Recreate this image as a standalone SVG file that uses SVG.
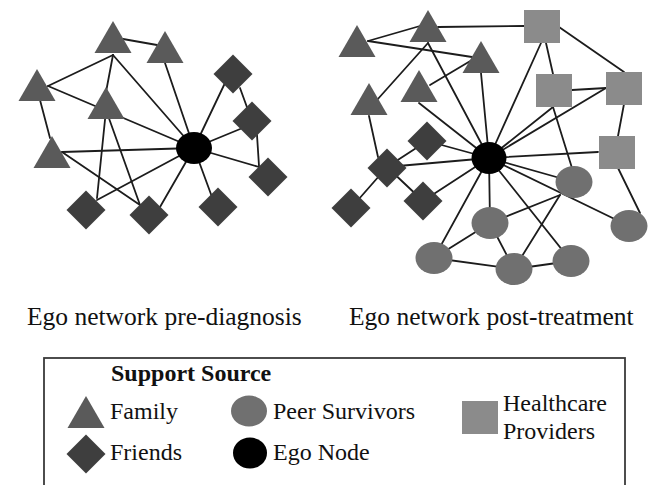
<svg xmlns="http://www.w3.org/2000/svg" xmlns:xlink="http://www.w3.org/1999/xlink" width="651" height="485" viewBox="0 0 651 485">
  <style>
    .edge { stroke: #1c1c1c; stroke-width: 1.8; fill: none; stroke-linecap: round; }
    .fam { fill: #5a5a5a; }
    .fri { fill: #3e3e3e; }
    .peer { fill: #707070; }
    .hcp { fill: #8b8b8b; }
    .ego { fill: #000000; }
    .caption { font-family: "Liberation Serif", "Times New Roman", serif; font-size: 25.5px; fill: #111; }
    .legend { font-family: "Liberation Serif", "Times New Roman", serif; font-size: 24px; fill: #111; }
    .legend-title { font-family: "Liberation Serif", "Times New Roman", serif; font-size: 24px; font-weight: bold; fill: #111; }
    .frame { fill: #ffffff; stroke: #3a3a3a; stroke-width: 1.8; }
  </style>
  <defs>
    <!-- triangle anchored at its apex -->
    <polygon id="tri" points="0,0 18.5,32 -18.5,32"/>
    <!-- diamond anchored at its centre -->
    <polygon id="dia" points="0,-19.5 19.5,0 0,19.5 -19.5,0"/>
    <!-- square anchored at its top-left corner -->
    <rect id="sq" x="0" y="0" width="36" height="33"/>
  </defs>

  <rect width="651" height="485" fill="#ffffff"/>

  <!-- ===== Left network: pre-diagnosis ===== -->
  <g id="pre-edges">
    <line class="edge" x1="123" y1="39" x2="157" y2="45"/>
    <line class="edge" x1="113" y1="55" x2="48" y2="86"/>
    <line class="edge" x1="113" y1="55" x2="106" y2="92"/>
    <line class="edge" x1="113" y1="55" x2="194" y2="148"/>
    <line class="edge" x1="165" y1="63" x2="194" y2="148"/>
    <line class="edge" x1="48" y1="86" x2="194" y2="148"/>
    <line class="edge" x1="40" y1="100" x2="50" y2="138"/>
    <line class="edge" x1="62" y1="152" x2="194" y2="148"/>
    <line class="edge" x1="62" y1="152" x2="140" y2="205"/>
    <line class="edge" x1="106" y1="110" x2="97" y2="198"/>
    <line class="edge" x1="106" y1="110" x2="140" y2="205"/>
    <line class="edge" x1="97" y1="200" x2="194" y2="148"/>
    <line class="edge" x1="160" y1="207" x2="194" y2="148"/>
    <line class="edge" x1="212" y1="197" x2="194" y2="148"/>
    <line class="edge" x1="225" y1="83" x2="194" y2="148"/>
    <line class="edge" x1="240" y1="88" x2="248" y2="110"/>
    <line class="edge" x1="245" y1="127" x2="194" y2="148"/>
    <line class="edge" x1="257" y1="135" x2="259" y2="166"/>
    <line class="edge" x1="259" y1="167" x2="194" y2="148"/>
  </g>

  <g id="pre-family-1"><use xlink:href="#tri" class="fam" x="113" y="21"/></g>
  <g id="pre-family-2"><use xlink:href="#tri" class="fam" x="165" y="31"/></g>
  <g id="pre-family-3"><use xlink:href="#tri" class="fam" x="37" y="69"/></g>
  <g id="pre-family-4"><use xlink:href="#tri" class="fam" x="106" y="87"/></g>
  <g id="pre-family-5"><use xlink:href="#tri" class="fam" x="52" y="136"/></g>

  <g id="pre-friend-1"><use xlink:href="#dia" class="fri" x="233" y="74"/></g>
  <g id="pre-friend-2"><use xlink:href="#dia" class="fri" x="252" y="121"/></g>
  <g id="pre-friend-3"><use xlink:href="#dia" class="fri" x="268" y="177"/></g>
  <g id="pre-friend-4"><use xlink:href="#dia" class="fri" x="86" y="210"/></g>
  <g id="pre-friend-5"><use xlink:href="#dia" class="fri" x="149" y="215"/></g>
  <g id="pre-friend-6"><use xlink:href="#dia" class="fri" x="218" y="207"/></g>

  <g id="pre-ego"><ellipse class="ego" cx="194" cy="148" rx="18" ry="16"/></g>

  <!-- ===== Right network: post-treatment ===== -->
  <g id="post-edges">
    <line class="edge" x1="368" y1="41" x2="420" y2="26"/>
    <line class="edge" x1="368" y1="41" x2="472" y2="57"/>
    <line class="edge" x1="438" y1="27" x2="524" y2="26"/>
    <line class="edge" x1="428" y1="43" x2="377" y2="100"/>
    <line class="edge" x1="428" y1="43" x2="489" y2="158"/>
    <line class="edge" x1="472" y1="60" x2="430" y2="85"/>
    <line class="edge" x1="481" y1="73" x2="489" y2="158"/>
    <line class="edge" x1="419" y1="103" x2="489" y2="158"/>
    <line class="edge" x1="541" y1="43" x2="489" y2="158"/>
    <line class="edge" x1="546" y1="43" x2="553" y2="74"/>
    <line class="edge" x1="559" y1="27" x2="624" y2="72"/>
    <line class="edge" x1="572" y1="90" x2="606" y2="88"/>
    <line class="edge" x1="553" y1="107" x2="489" y2="158"/>
    <line class="edge" x1="606" y1="88" x2="489" y2="158"/>
    <line class="edge" x1="553" y1="107" x2="572" y2="168"/>
    <line class="edge" x1="624" y1="104" x2="618" y2="136"/>
    <line class="edge" x1="369" y1="116" x2="378" y2="157"/>
    <line class="edge" x1="489" y1="158" x2="598" y2="152"/>
    <line class="edge" x1="618" y1="168" x2="640" y2="213"/>
    <line class="edge" x1="489" y1="158" x2="574" y2="182"/>
    <line class="edge" x1="489" y1="158" x2="629" y2="226"/>
    <line class="edge" x1="489" y1="158" x2="571" y2="261"/>
    <line class="edge" x1="489" y1="158" x2="490" y2="223"/>
    <line class="edge" x1="489" y1="158" x2="434" y2="258"/>
    <line class="edge" x1="560" y1="195" x2="490" y2="223"/>
    <line class="edge" x1="560" y1="195" x2="514" y2="269"/>
    <line class="edge" x1="490" y1="223" x2="434" y2="258"/>
    <line class="edge" x1="490" y1="223" x2="514" y2="269"/>
    <line class="edge" x1="434" y1="258" x2="514" y2="269"/>
    <line class="edge" x1="514" y1="269" x2="571" y2="261"/>
    <line class="edge" x1="489" y1="158" x2="427" y2="141"/>
    <line class="edge" x1="489" y1="158" x2="387" y2="167"/>
    <line class="edge" x1="489" y1="158" x2="423" y2="201"/>
    <line class="edge" x1="427" y1="141" x2="387" y2="167"/>
    <line class="edge" x1="387" y1="167" x2="423" y2="201"/>
    <line class="edge" x1="387" y1="167" x2="351" y2="208"/>
  </g>

  <g id="post-family-1"><use xlink:href="#tri" class="fam" x="357" y="25"/></g>
  <g id="post-family-2"><use xlink:href="#tri" class="fam" x="428" y="10"/></g>
  <g id="post-family-3"><use xlink:href="#tri" class="fam" x="481" y="41"/></g>
  <g id="post-family-4"><use xlink:href="#tri" class="fam" x="419" y="70"/></g>
  <g id="post-family-5"><use xlink:href="#tri" class="fam" x="369" y="83"/></g>

  <g id="post-provider-1"><use xlink:href="#sq" class="hcp" x="524" y="10"/></g>
  <g id="post-provider-2"><use xlink:href="#sq" class="hcp" x="536" y="74"/></g>
  <g id="post-provider-3"><use xlink:href="#sq" class="hcp" x="606" y="72"/></g>
  <g id="post-provider-4"><use xlink:href="#sq" class="hcp" x="599" y="136"/></g>

  <g id="post-friend-1"><use xlink:href="#dia" class="fri" x="427" y="141"/></g>
  <g id="post-friend-2"><use xlink:href="#dia" class="fri" x="387" y="168"/></g>
  <g id="post-friend-3"><use xlink:href="#dia" class="fri" x="423" y="201"/></g>
  <g id="post-friend-4"><use xlink:href="#dia" class="fri" x="351" y="208"/></g>

  <g id="post-peer-1"><ellipse class="peer" cx="574" cy="182" rx="18.5" ry="16"/></g>
  <g id="post-peer-2"><ellipse class="peer" cx="490" cy="223" rx="18.5" ry="16"/></g>
  <g id="post-peer-3"><ellipse class="peer" cx="629" cy="226" rx="18.5" ry="16"/></g>
  <g id="post-peer-4"><ellipse class="peer" cx="434" cy="258" rx="18.5" ry="16"/></g>
  <g id="post-peer-5"><ellipse class="peer" cx="514" cy="269" rx="18.5" ry="16"/></g>
  <g id="post-peer-6"><ellipse class="peer" cx="571" cy="261" rx="18.5" ry="16"/></g>

  <g id="post-ego"><ellipse class="ego" cx="489" cy="158" rx="17.5" ry="16"/></g>

  <!-- captions -->
  <text class="caption" x="27" y="325">Ego network pre-diagnosis</text>
  <text class="caption" x="349" y="325">Ego network post-treatment</text>

  <!-- ===== Legend ===== -->
  <g id="legend">
    <rect class="frame" x="44" y="358" width="581" height="140"/>
    <text class="legend-title" x="111" y="381">Support Source</text>
    <use xlink:href="#tri" class="fam" x="86" y="396"/>
    <text class="legend" x="110" y="419">Family</text>
    <use xlink:href="#dia" class="fri" x="86" y="454"/>
    <text class="legend" x="110" y="460">Friends</text>
    <ellipse class="peer" cx="249" cy="411" rx="18" ry="15.5"/>
    <text class="legend" x="273" y="419">Peer Survivors</text>
    <ellipse class="ego" cx="250" cy="453" rx="17" ry="15.5"/>
    <text class="legend" x="273" y="460">Ego Node</text>
    <use xlink:href="#sq" class="hcp" x="462" y="401"/>
    <text class="legend" x="503" y="411">Healthcare</text>
    <text class="legend" x="503" y="439">Providers</text>
  </g>
</svg>
